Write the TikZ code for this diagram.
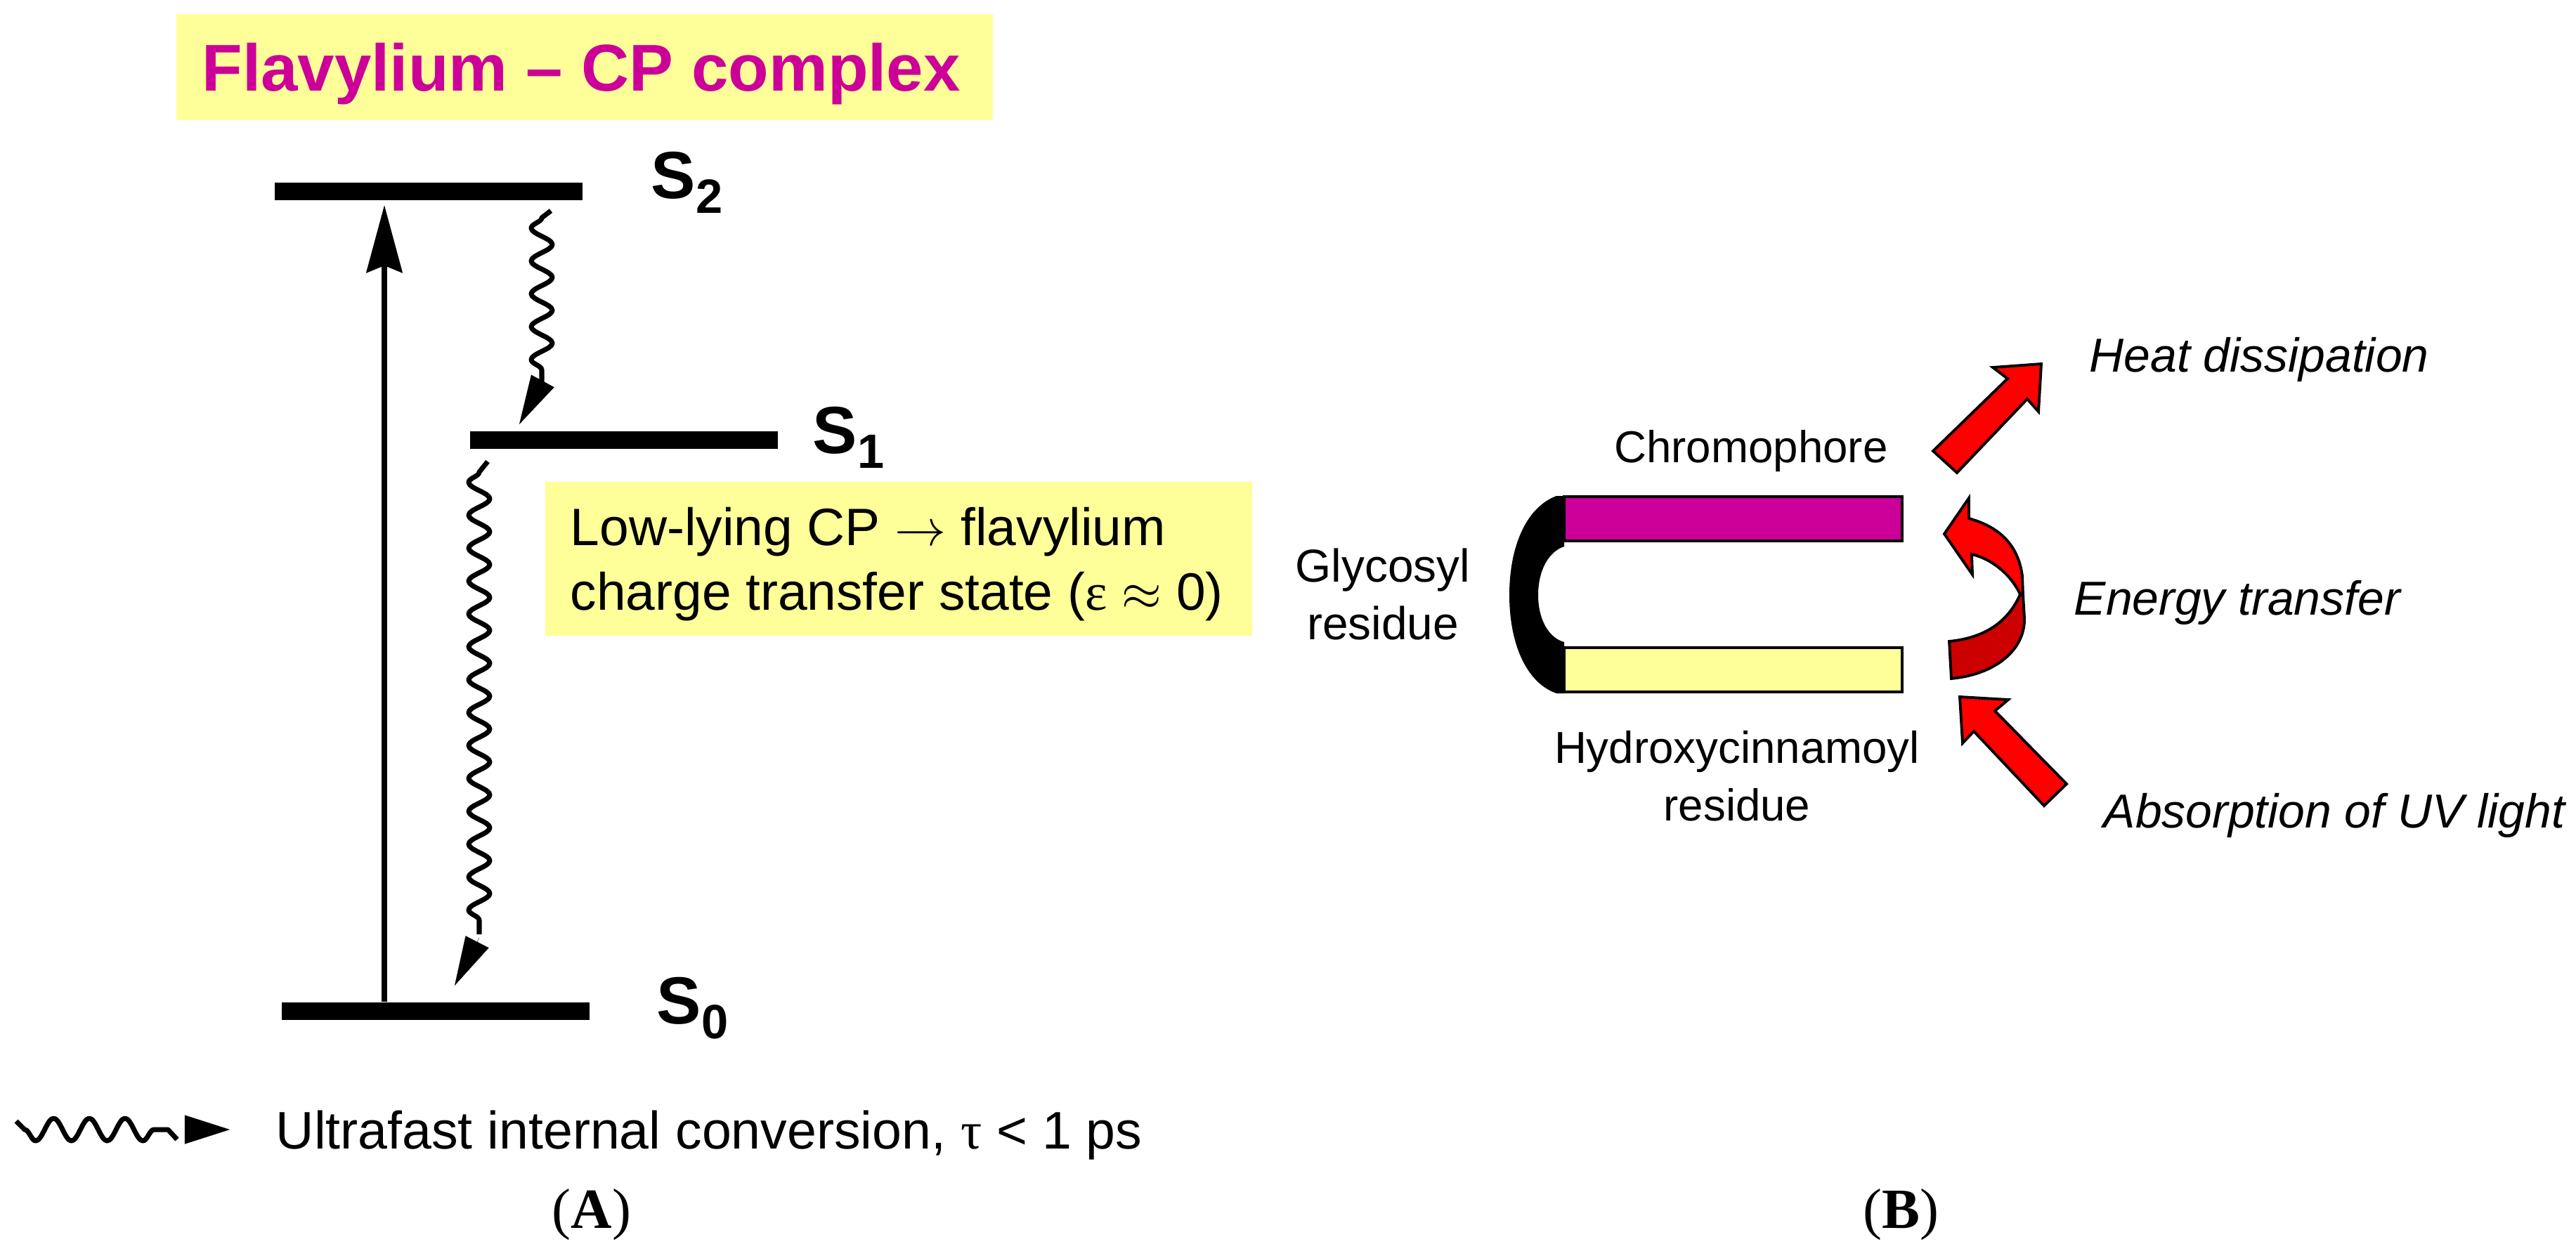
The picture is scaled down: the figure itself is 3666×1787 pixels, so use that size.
\documentclass[tikz,border=0pt]{standalone}
\usepackage{fontspec}
\setmainfont{Liberation Sans}
\newfontfamily\capfont{Liberation Serif}
\usetikzlibrary{arrows.meta, decorations.pathmorphing}
\definecolor{chromo}{RGB}{204, 0, 153}
\definecolor{pale}{RGB}{255, 255, 153}
\definecolor{arrowred}{RGB}{255, 0, 0}
\definecolor{arrowdark}{RGB}{204, 0, 0}
\newcommand{\fs}[1]{\fontsize{#1}{1.2\dimexpr#1pt\relax}\selectfont}
\newcommand{\statename}[1]{S{\fs{19.5}\raisebox{-6pt}{#1}}}

\begin{document}
\begin{tikzpicture}[x=0.01cm, y=-0.01cm,
    level/.style={rectangle, fill=black, inner sep=0pt, minimum width=4.37cm, minimum height=0.25cm},
    statelabel/.style={anchor=base west, inner sep=0pt, font=\fs{27}\bfseries},
    paleback/.style={rectangle, fill=pale, inner sep=0pt},
    bar/.style={rectangle, draw, line width=1.2pt, inner sep=0pt, minimum width=4.81cm, minimum height=0.63cm},
    wavy/.style={line width=2pt, line join=round},
    wave/.style={decoration={snake, segment length=0.468cm, amplitude=-0.15cm}},
    legwave/.style={decoration={snake, segment length=0.508cm, amplitude=-0.16cm}},
    headtip/.style={line width=0.1pt, -{Triangle[length=0.7cm, width=0.37cm]}},
    redarrow/.style={draw, line width=1.1pt, fill=arrowred},
    txt/.style={inner sep=0pt, font=\fs{18.1}, align=center},
    side/.style={inner sep=0pt, font=\fs{19.3}\itshape, anchor=base west},
    captionlab/.style={inner sep=0pt, font=\capfont\fs{23}, anchor=base}]
    \useasboundingbox (0,0) rectangle (3666,1787);

    % Title and note
    \node[paleback, minimum width=11.62cm, minimum height=1.51cm] (titlebox) at (832, 95.5) {};
    \node[inner sep=0pt, font=\fs{26.8}\bfseries, text=chromo, anchor=base west] (title) at (287, 129) {Flavylium -- CP complex};
    \node[paleback, minimum width=10.06cm, minimum height=2.19cm] (notebox) at (1279, 795.5) {};
    \node[inner sep=0pt, font=\fs{21.3}, align=left, anchor=west] (note) at (811, 803)
        {Low-lying CP $\rightarrow$ flavylium\\[0.7pt]charge transfer state ({\capfont ε} $\approx$ 0)};

    % Levels
    \node[level] (s2) at (610, 272) {};
    \node[level] (s1) at (888, 626) {};
    \node[level] (s0) at (620, 1439) {};
    \node[statelabel] (s2lab) at (926, 282) {\statename{2}};
    \node[statelabel] (s1lab) at (1156, 645) {\statename{1}};
    \node[statelabel] (s0lab) at (934, 1457) {\statename{0}};

    % Free ends of the wavy arrows
    \coordinate (w2s) at (784, 300);
    \coordinate (w2a) at (771, 310);
    \coordinate (w2b) at (771, 545);
    \coordinate (w2h) at (772, 543);
    \coordinate (w2t) at (739, 604);
    \coordinate (w1s) at (694, 657);
    \coordinate (w1a) at (682, 672);
    \coordinate (w1b) at (682, 1330);
    \coordinate (w1h) at (682, 1335);
    \coordinate (w1t) at (647, 1403);
    \coordinate (up) at (547, 292);

    % Arrows
    \draw[line width=2pt, -{Stealth[length=0.96cm, width=0.51cm, inset=0.1cm]}] (s0.north -| up) -- (up);
    \draw[wavy] (w2s) -- (w2a) decorate[wave] {-- (w2b)};
    \draw[headtip] (w2h) -- (w2t);
    \draw[wavy] (w1s) -- (w1a) decorate[wave] {-- (w1b)};
    \draw[headtip] (w1h) -- (w1t);

    % Legend
    \coordinate (legs) at (23, 1596);
    \coordinate (lega) at (35, 1608);
    \coordinate (legb) at (239, 1608);
    \coordinate (lege) at (252, 1622);
    \coordinate (legc) at (263, 1608);
    \coordinate (legd) at (327, 1608);
    \draw[wavy] (legs) -- (lega) decorate[legwave] {-- (legb)} -- (lege);
    \draw[line width=0.1pt, -{Triangle[length=0.64cm, width=0.41cm]}] (legc) -- (legd);
    \node[inner sep=0pt, font=\fs{21.4}, anchor=base west] (legtext) at (392, 1635) {Ultrafast internal conversion, {\capfont τ} < 1 ps};
    \node[captionlab] (capa) at (842, 1748) {(\textbf{A})};
    \node[captionlab] (capb) at (2705, 1748) {(\textbf{B})};

    % Molecule
    \fill (2226, 706) -- (2215, 706) .. controls (2172, 722) and (2148, 778) .. (2148, 847)
        .. controls (2148, 916) and (2172, 972) .. (2215, 987) -- (2226, 987) -- (2226, 914)
        .. controls (2204, 908) and (2189, 882) .. (2189, 847)
        .. controls (2189, 812) and (2204, 785) .. (2226, 778) -- cycle;
    \node[bar, fill=chromo] (chromo) at (2466.5, 738.5) {};
    \node[bar, fill=pale] (hydroxy) at (2466.5, 953.5) {};
    \node[txt, anchor=base] (chromolab) at (2492, 658) {Chromophore};
    \node[txt, font=\fs{18.7}] (glyco) at (1968, 846) {Glycosyl\\[0.9pt]residue};
    \node[txt] (hydrolab) at (2472, 1105) {Hydroxycinnamoyl\\[1.5pt]residue};

    % Red arrows
    \path[redarrow] (2751, 642) -- (2785, 673) -- (2885, 568) -- (2901, 586) -- (2905, 518) -- (2836, 523) -- (2857, 539) -- cycle;
    \path[redarrow] (2789, 992) -- (2858, 996) -- (2839, 1012) -- (2941, 1116) -- (2909, 1147) -- (2809, 1041) -- (2793, 1058) -- cycle;
    \path[redarrow, fill=arrowdark] (2875, 846) .. controls (2858, 885) and (2825, 908) .. (2774, 913) -- (2777, 966)
        .. controls (2840, 960) and (2882, 925) .. (2881, 880) -- (2879, 847) -- cycle;
    \path[redarrow] (2802, 709) -- (2767, 760) -- (2807, 818) -- (2806, 789) .. controls (2832, 795) and (2860, 815) .. (2875, 846)
        -- (2879, 847) -- (2878, 820) .. controls (2872, 775) and (2845, 750) .. (2802, 738) -- cycle;

    % Right hand labels
    \node[side] (heat) at (2973, 529) {Heat dissipation};
    \node[side] (energy) at (2951, 875) {Energy transfer};
    \node[side] (absorb) at (2993, 1178) {Absorption of UV light};
\end{tikzpicture}
\end{document}
